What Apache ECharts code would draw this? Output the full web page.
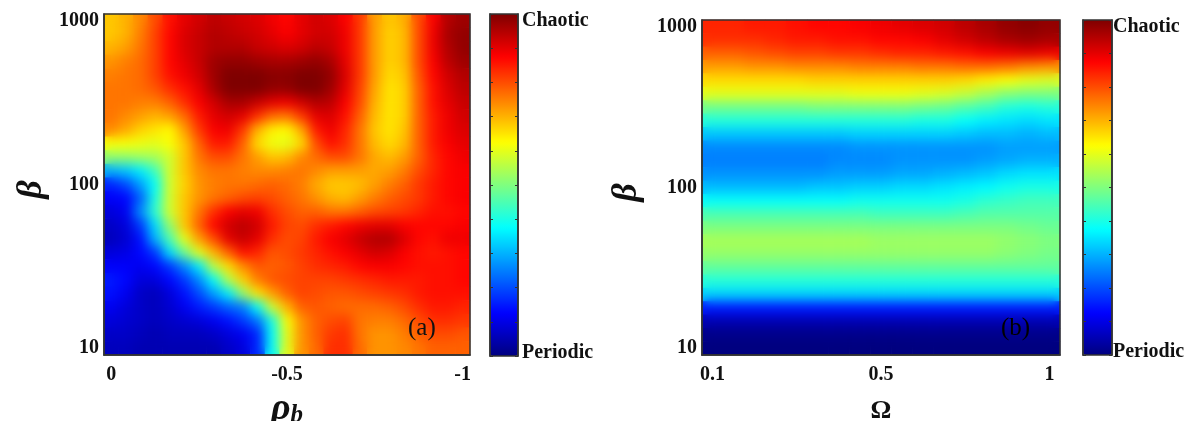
<!DOCTYPE html>
<html><head><meta charset="utf-8">
<style>html,body{margin:0;padding:0;background:#fff}#c{width:1195px;height:421px}</style>
<script src="https://cdn.jsdelivr.net/npm/echarts@6/dist/echarts.min.js"></script>
</head><body><div id="c"></div>
<script>
const betaRows=['1000','825','681','562','464','383','316','261','215','178','147','121','100','82','68','56','46','38','32','26','21','18','15','12','10'];
const rhoCols=['0','-0.04','-0.08','-0.13','-0.17','-0.21','-0.25','-0.29','-0.33','-0.38','-0.42','-0.46','-0.5','-0.54','-0.58','-0.63','-0.67','-0.71','-0.75','-0.79','-0.83','-0.88','-0.92','-0.96','-1'];
const omegaCols=['0.1','0.15','0.2','0.25','0.3','0.35','0.4','0.45','0.5','0.56','0.63','0.69','0.75','0.81','0.88','0.94','1'];
const betaTicks=['1000','100','10'];
const rhoTicks=['0','-0.5','-1'];
const omegaTicks=['0.1','0.5','1'];
const panelA=[
[68,70,74,80,86,90,92,94,93,92,91,89,87,90,92,91,88,82,72,68,70,80,88,95,97],
[68,70,75,81,87,91,93,95,94,93,92,90,88,90,92,92,89,82,72,67,69,80,89,96,98],
[70,72,76,81,87,91,93,95,95,95,93,92,91,92,94,93,89,82,72,67,69,80,89,95,98],
[73,75,77,81,87,90,93,97,98,98,97,96,96,97,98,96,90,82,72,67,69,80,88,94,97],
[75,76,77,81,86,89,92,97,100,100,100,99,99,100,100,98,91,82,72,66,68,79,87,92,95],
[76,76,77,79,83,86,90,96,100,100,100,98,98,100,100,97,90,81,71,65,67,78,86,91,94],
[76,76,75,75,78,83,88,92,96,96,93,90,89,92,95,94,88,80,70,65,67,78,86,90,93],
[76,74,72,70,72,77,85,90,92,90,83,77,76,82,90,91,86,78,69,65,67,78,85,89,92],
[74,71,67,65,63,72,82,88,89,82,70,64,63,71,85,89,84,76,68,65,68,78,85,89,91],
[62,62,61,60,62,68,78,85,85,78,66,61,60,66,80,86,83,76,69,66,69,78,85,88,90],
[52,52,53,54,58,68,76,80,80,76,72,68,69,74,77,80,80,76,71,69,72,78,84,87,89],
[30,32,36,44,58,68,74,76,76,75,74,74,75,76,74,72,72,72,71,72,75,80,84,87,88],
[16,20,28,38,58,67,73,75,76,76,77,78,77,75,71,68,68,69,72,75,78,82,85,87,88],
[12,13,22,40,58,68,73,76,78,80,81,80,78,76,73,70,69,72,75,78,80,82,85,87,88],
[9,11,26,42,58,68,76,83,88,90,89,83,80,78,78,76,76,78,80,81,82,84,86,86,87],
[7,9,18,34,52,68,78,87,92,94,92,85,81,80,83,85,87,89,90,90,88,87,87,87,88],
[6,8,14,30,45,60,72,80,90,93,90,83,80,81,85,88,90,93,95,95,91,87,86,89,89],
[9,10,13,18,34,48,60,70,78,86,84,79,80,82,84,86,88,90,92,91,88,86,85,86,87],
[12,12,11,13,18,26,36,56,66,74,79,78,79,81,83,84,85,87,88,88,87,86,86,86,87],
[15,13,9,9,13,18,26,38,55,67,75,79,80,81,81,81,82,83,84,85,85,85,86,86,87],
[14,11,7,6,9,14,20,28,36,52,65,72,78,81,80,79,79,80,81,82,83,85,86,86,86],
[11,9,7,6,8,11,15,18,22,25,38,58,70,78,79,78,77,77,77,78,80,83,85,85,84],
[9,8,7,6,7,8,9,11,14,18,24,40,62,73,78,80,81,76,75,75,77,80,83,83,82],
[7,7,6,5,6,6,6,7,9,11,16,38,60,73,78,82,83,76,73,73,75,78,80,80,79],
[6,6,5,5,5,5,5,5,7,9,16,38,60,73,77,83,83,77,73,73,74,76,78,78,78]];
const panelB=[
[84,84,85,85,86,87,87,88,89,90,91,92,94,96,98,99,98],
[83,83,83,84,85,85,86,86,87,87,88,90,92,94,96,97,96],
[78,78,79,80,81,81,82,82,83,84,84,85,86,88,89,90,89],
[72,72,73,73,74,74,74,75,75,75,76,76,77,77,76,74,73],
[66,66,66,66,66,67,67,67,67,67,67,67,66,64,62,60,59],
[60,60,60,60,60,60,60,61,61,61,60,59,57,54,51,50,50],
[49,49,49,49,49,50,50,50,50,50,49,48,46,44,41,40,41],
[41,41,41,41,41,41,41,41,41,41,40,40,38,36,35,34,35],
[32,32,32,32,32,32,32,33,33,33,33,33,32,31,31,30,31],
[26,26,26,26,26,26,26,27,27,27,27,27,27,27,28,28,28],
[25,25,25,25,25,25,26,26,26,27,27,27,27,28,29,30,30],
[27,27,27,27,27,27,28,28,28,29,29,30,31,32,34,35,35],
[31,31,31,31,31,32,32,33,33,34,34,35,36,37,39,40,40],
[38,38,38,38,38,38,38,39,39,39,39,39,40,42,43,44,44],
[45,45,45,45,45,45,45,45,44,44,44,44,45,46,46,46,46],
[50,50,50,50,50,50,50,50,50,50,50,50,50,50,50,49,48],
[54,54,54,54,54,54,54,54,53,53,53,53,53,53,52,51,50],
[52,52,52,52,52,52,52,52,52,52,52,52,52,52,51,50,49],
[47,47,47,47,47,47,47,47,47,47,47,47,47,47,47,47,47],
[41,41,41,41,41,41,41,41,41,41,41,41,41,41,41,41,41],
[33,33,33,33,33,33,33,33,33,33,33,33,33,33,33,33,33],
[15,15,15,15,15,15,15,15,15,15,15,15,15,15,15,15,15],
[5,5,5,5,5,5,5,5,5,5,5,5,5,5,5,5,5],
[1,1,1,1,1,1,1,1,1,1,1,1,1,1,1,1,1],
[0,0,0,0,0,0,0,0,0,0,0,0,0,0,0,0,0]];
const jet=['#00007f','#0000ff','#007fff','#00ffff','#7fff7f','#ffff00','#ff7f00','#ff0000','#7f0000'];

const SERIF='"Liberation Serif","DejaVu Serif",serif';
const tick={fontFamily:SERIF,fontWeight:'bold',fontSize:20,color:'#111'};
const PA={left:104,top:14,width:366,height:341}, PB={left:702,top:20,width:358,height:335};
const CA={left:490,top:14,width:28,height:342}, CB={left:1083,top:20,width:29,height:335};
const cells=m=>m.flatMap((row,r)=>row.map((v,c)=>[c,r,v]));
const frame={show:true,borderColor:'#333',borderWidth:1.5,backgroundColor:'transparent',zlevel:3,outerBoundsMode:'none',containLabel:false};
const line={show:true,lineStyle:{color:'#333',width:1.5}};
function mainX(cats,ticks,name,nameGap,nameStyle,grid){return {type:'category',gridIndex:grid,data:cats,zlevel:3,position:'bottom',
  boundaryGap:true,axisLine:line,
  axisTick:{alignWithLabel:true,inside:true,length:3,interval:(i,v)=>ticks.includes(v),lineStyle:{color:'#333'}},
  axisLabel:{...tick,margin:10,interval:(i,v)=>ticks.includes(v)},
  name,nameLocation:'middle',nameGap,nameTextStyle:nameStyle,splitLine:{show:false},splitArea:{show:false}};}
function mainY(grid,gap){return {type:'category',gridIndex:grid,data:betaRows,inverse:true,zlevel:3,position:'left',
  axisLine:line,
  axisTick:{alignWithLabel:true,inside:true,length:3,interval:(i,v)=>betaTicks.includes(v),lineStyle:{color:'#333'}},
  axisLabel:{...tick,margin:5,interval:(i,v)=>betaTicks.includes(v)},
  name:'β',nameLocation:'middle',nameRotate:90,nameGap:gap,
  nameTextStyle:{fontFamily:SERIF,fontWeight:'bold',fontStyle:'italic',fontSize:36,color:'#111',padding:[0,10,0,0]},
  splitLine:{show:false},splitArea:{show:false}};}
function barX(grid){return {type:'value',gridIndex:grid,min:0,max:1,show:false,zlevel:3};}
function barY(grid,pos,labels,margin){return {type:'value',gridIndex:grid,min:0,max:10,interval:1,position:pos,zlevel:3,
  axisLine:line,axisTick:{show:true,inside:true,length:3,lineStyle:{color:'#333'}},
  splitLine:{show:false},
  axisLabel:labels?{show:true,...tick,margin,lineHeight:6,padding:[4,0,0,0],showMinLabel:true,showMaxLabel:true,
    verticalAlignMaxLabel:'top',verticalAlignMinLabel:'bottom',
    formatter:v=>v===10?'Chaotic':v===0?'Periodic':''}:{show:false}};}
function heat(name,xi,yi,m,z){return {type:'heatmap',name,xAxisIndex:xi,yAxisIndex:yi,data:cells(m),zlevel:z,progressive:0,
  itemStyle:{borderWidth:0},emphasis:{disabled:true},silent:true};}
function vm(rect,idx){return {type:'continuous',seriesIndex:idx,min:0,max:100,dimension:2,left:rect.left,top:rect.top,itemWidth:rect.width,itemHeight:rect.height,
  padding:0,calculable:false,hoverLink:false,realtime:false,showLabel:false,text:null,zlevel:2,inRange:{color:jet}};}

const chart=echarts.init(document.getElementById('c'),null,{renderer:'canvas',width:1195,height:421});
chart.setOption({
  animation:false,backgroundColor:'transparent',
  grid:[{...frame,...PA},{...frame,...CA},{...frame,...PB},{...frame,...CB}],
  xAxis:[
    mainX(rhoCols,rhoTicks,'{r|ρ}{s|b}',30,{rich:{r:{fontFamily:SERIF,fontWeight:'bold',fontStyle:'italic',fontSize:38,color:'#111'},s:{fontFamily:SERIF,fontWeight:'bold',fontStyle:'italic',fontSize:25,color:'#111',verticalAlign:'bottom'}}},0),
    barX(1),
    mainX(omegaCols,omegaTicks,'Ω',43,{fontFamily:SERIF,fontWeight:'bold',fontSize:26,color:'#111'},2),
    barX(3)],
  yAxis:[mainY(0,54),barY(1,'left',false),barY(1,'right',true,4),mainY(2,57),barY(3,'left',false),barY(3,'right',true,1)],
  visualMap:[vm(CA,[0,1]),vm(CB,[2,3])],
  title:[
    {text:'(a)',left:408,top:316,padding:0,zlevel:3,textStyle:{fontFamily:SERIF,fontWeight:'normal',fontSize:25,color:'#111'}},
    {text:'(b)',left:1001,top:316,padding:0,zlevel:3,textStyle:{fontFamily:SERIF,fontWeight:'normal',fontSize:25,color:'#000'}}],
  series:[heat('a-base',0,0,panelA,0),heat('a',0,0,panelA,1),heat('b-base',2,3,panelB,0),heat('b',2,3,panelB,1)]
});
// The reference is a smooth shaded surface: soften the cell layer, limited to the two plot rectangles.
const soft=document.querySelector('canvas[data-zr-dom-id="zr_1"]');
if(soft){
  const rectPath=r=>`M${r.left} ${r.top}H${r.left+r.width}V${r.top+r.height}H${r.left}Z`;
  soft.style.filter='blur(6px)';
  soft.style.clipPath=`path('${rectPath(PA)} ${rectPath(PB)}')`;
}
</script></body></html>
